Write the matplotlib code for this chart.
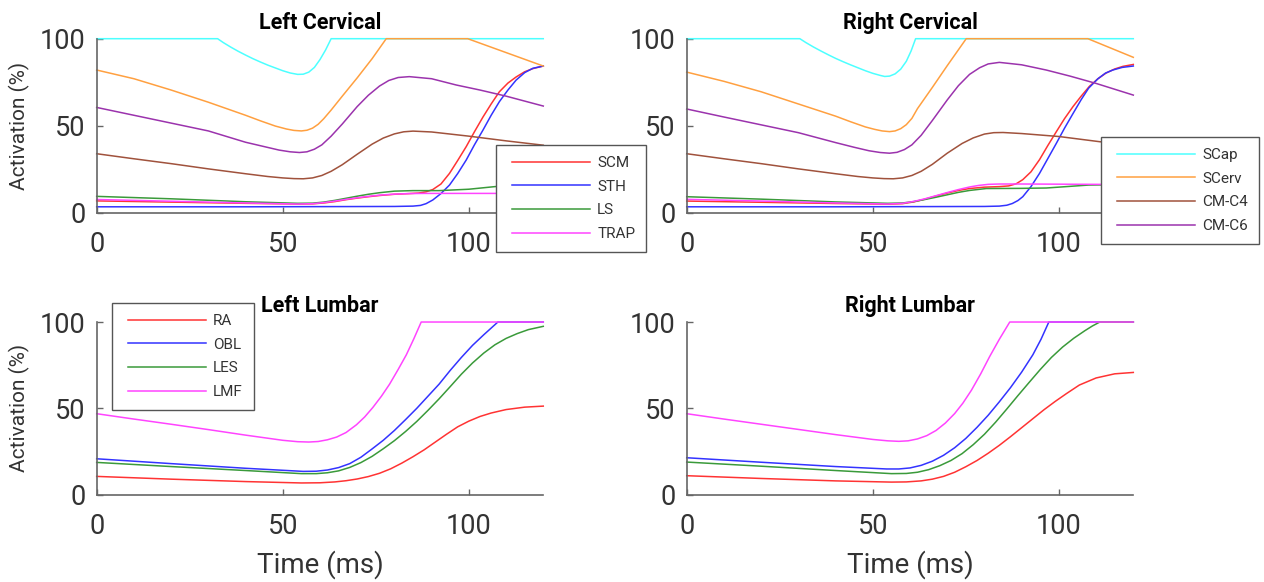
import matplotlib
matplotlib.use("Agg")
import matplotlib.pyplot as plt
from matplotlib.lines import Line2D
from matplotlib.legend_handler import HandlerLine2D

# ---- Left Cervical ----
lc_scap_t = [0, 32.5, 34, 36, 38, 40, 42, 44, 46, 48, 50, 52, 54, 55.5, 57, 58.5, 60, 61.5, 63, 120]
lc_scap_v = [100, 100, 97.8, 95.2, 92.8, 90.6, 88.5, 86.6, 84.8, 83.2, 81.6, 80.3, 79.5, 79.6, 80.8, 83.5, 88, 93.5, 100, 100]
lc_scerv_t = [0, 10, 20, 30, 40, 44, 48, 51, 53, 55, 56.5, 58, 59.5, 61, 63, 66, 70, 74, 77.8, 99.7, 120]
lc_scerv_v = [82, 77, 70.5, 63.5, 56, 52.8, 49.8, 48.1, 47.3, 47, 47.4, 48.6, 50.8, 54, 59, 67, 77.5, 88.5, 100, 100, 84.3]
lc_c4_t = [0, 10, 20, 30, 40, 46, 50, 53, 55.5, 58, 60.5, 63, 66, 70, 74, 77, 80, 82.5, 85, 90, 100, 110, 120]
lc_c4_v = [33.9, 31, 28.2, 25.2, 22.4, 20.8, 20, 19.6, 19.5, 20, 21.4, 23.8, 27.6, 33.6, 39.4, 42.9, 45.3, 46.5, 46.9, 46.4, 44, 41.3, 38.8]
lc_c6_t = [0, 10, 20, 30, 40, 45, 49, 52, 54.5, 56.5, 58.5, 60.5, 63, 66, 70, 73, 76, 78.5, 81, 84, 90, 96.6, 103, 110, 120]
lc_c6_v = [60.5, 56, 51.5, 47, 40.5, 38, 36, 35, 34.6, 35, 36.5, 39, 44, 51, 61, 67.5, 72.8, 76, 77.7, 78.2, 77, 73.4, 70.5, 67, 61.3]
lc_scm_t = [0, 20, 40, 54, 58, 61, 64, 67, 70, 73, 76, 80, 84, 86.5, 88.5, 90.3, 92.5, 94.8, 97, 99.3, 101.5, 103.8, 106, 108.2, 110.5, 112.7, 115, 117.2, 120]
lc_scm_v = [6.8, 6.1, 5.4, 5.0, 5.1, 5.6, 6.4, 7.5, 8.4, 9.2, 9.9, 10.6, 11, 11.3, 12, 13.3, 16.5, 22.6, 30, 38, 46.5, 55, 62.5, 69.5, 74.5, 78, 81, 82.8, 84.3]
lc_sth_t = [0, 40, 80, 85, 87, 88.5, 90.3, 92.5, 94.8, 97, 99.3, 101.5, 103.8, 106, 108.2, 110.5, 112.7, 115, 117.2, 120]
lc_sth_v = [3.4, 3.4, 3.6, 3.8, 4.2, 5.2, 7.3, 11, 15.9, 22.5, 30.3, 39, 47.5, 56, 63.8, 70.5, 76.2, 80.5, 83, 84.3]
lc_ls_t = [0, 20, 40, 54, 58, 61, 64, 67, 70, 73, 76, 80, 85, 92, 100, 107, 120]
lc_ls_v = [9.4, 8, 6.3, 5.4, 5.5, 6.1, 7.1, 8.3, 9.5, 10.6, 11.5, 12.4, 12.7, 12.7, 13.5, 15, 16.5]
lc_trap_t = [0, 20, 40, 54, 58, 61, 64, 67, 70, 73, 76, 80, 84, 88, 120]
lc_trap_v = [7.6, 6.6, 5.6, 5.0, 5.2, 5.8, 6.7, 7.7, 8.6, 9.4, 10.1, 10.7, 11, 11.1, 11.1]

# ---- Right Cervical ----
rc_scap_t = [0, 30.4, 32, 34, 36, 38, 40, 42, 44, 46, 48, 50, 52, 53.2, 54.5, 56, 57.5, 59, 60.3, 61.5, 120]
rc_scap_v = [100, 100, 97.8, 95.3, 93, 90.8, 88.7, 86.8, 85, 83.3, 81.6, 80.1, 78.9, 78.3, 78.5, 79.8, 82.5, 87, 93, 100, 100]
rc_scerv_t = [0, 10, 20, 30, 40, 44, 48, 50.5, 52.5, 54.5, 56, 57.5, 59, 60.5, 62, 66, 70, 75.1, 107.8, 120]
rc_scerv_v = [80.8, 75.5, 69.5, 62.5, 55.5, 52.3, 49.3, 47.9, 47, 46.6, 47, 48.3, 50.6, 54.2, 59.8, 72, 84.5, 100, 100, 89.3]
rc_c4_t = [0, 10, 20, 30, 40, 46, 50, 53, 55.5, 58, 60.5, 63, 66, 70, 74, 77, 80, 82.5, 85, 90, 100, 111, 120]
rc_c4_v = [33.9, 31, 28.2, 25.2, 22.4, 20.8, 20, 19.6, 19.5, 20, 21.4, 23.8, 27.8, 34.2, 39.8, 43, 45.2, 46, 46.1, 45.5, 43.8, 40.8, 39]
rc_c6_t = [0, 10, 20, 30, 40, 45, 49, 52, 54.5, 56.5, 58.5, 60.5, 63, 66, 70, 73, 76, 78.7, 81, 84, 90, 96.6, 103, 110, 120]
rc_c6_v = [59.6, 55, 50.5, 46, 40.3, 37.6, 35.6, 34.6, 34.2, 34.7, 36.3, 39, 44.5, 53, 64.8, 73, 79.5, 83.3, 85.5, 86.4, 85, 82, 78.5, 74.3, 67.6]
rc_scm_t = [0, 20, 40, 54, 58, 61, 64, 67, 70, 73, 76, 80, 84, 86.5, 88.5, 90.3, 92.5, 94.8, 97, 99.3, 101.5, 103.8, 106, 108.2, 110.5, 112.7, 115, 117.2, 120]
rc_scm_v = [6.7, 6.0, 5.3, 4.9, 5.2, 6.2, 7.8, 9.6, 11.3, 12.8, 13.9, 14.7, 15, 15.4, 16.6, 19, 23.5, 30.5, 38.5, 46.5, 54, 61, 67, 72.6, 77, 80.3, 82.6, 84.1, 85.2]
rc_sth_t = [0, 40, 80, 84, 86, 87.5, 89, 90.3, 92.5, 94.8, 97, 99.3, 101.5, 103.8, 106, 108, 110.5, 112.5, 114.5, 117, 120]
rc_sth_v = [3.4, 3.4, 3.6, 3.8, 4.3, 5.3, 7, 9.2, 15, 22.6, 31, 39.8, 48.5, 57, 65, 71.6, 77, 80.2, 82, 83.5, 84.3]
rc_ls_t = [0, 20, 40, 54, 58, 61, 64, 67, 70, 73, 76, 80.5, 90, 96.6, 108, 120]
rc_ls_v = [9.2, 7.8, 6.2, 5.4, 5.6, 6.4, 7.6, 8.9, 10.3, 11.7, 12.8, 13.9, 14, 14.2, 15.9, 16.2]
rc_trap_t = [0, 20, 40, 54, 58, 61, 64, 67, 70, 73, 76, 78.5, 81, 84, 90, 100, 120]
rc_trap_v = [7.7, 6.7, 5.6, 5.0, 5.4, 6.5, 8, 9.8, 11.6, 13.3, 14.8, 15.7, 16.3, 16.5, 16.5, 16.4, 16.2]

# ---- Left Lumbar ----
ll_ra_t = [0, 20, 40, 55, 60, 64, 67, 70, 73, 76, 79, 82, 85, 88, 91, 94, 97, 100, 103, 106, 110, 115, 120]
ll_ra_v = [10.6, 9, 7.6, 6.8, 6.9, 7.4, 8.1, 9.1, 10.5, 12.4, 15, 18.3, 22, 26, 30.5, 35, 39.3, 42.6, 45.3, 47.3, 49.3, 50.7, 51.3]
ll_obl_t = [0, 20, 40, 55.5, 59, 62, 65, 68, 71, 74, 77, 80, 83, 86, 89, 92, 95, 98, 101, 104, 107.8, 120]
ll_obl_v = [20.8, 18, 15.3, 13.5, 13.6, 14.3, 15.7, 18, 21.7, 26.5, 31.5, 37.2, 43.5, 50, 57, 64, 72, 79.5, 86.5, 92.6, 100, 100]
ll_les_t = [0, 20, 40, 55, 59, 62, 65, 68, 71, 74, 77, 80, 83, 86, 89, 92, 95, 98, 101, 104, 107, 110, 113, 116, 120]
ll_les_v = [18.7, 16.3, 14, 12.2, 12.2, 12.7, 13.8, 15.8, 18.6, 22.2, 26.6, 31.3, 36.6, 42.4, 48.8, 55.5, 62.6, 69.8, 76.3, 82, 86.8, 90.5, 93.3, 95.6, 97.5]
ll_lmf_t = [0, 10, 20, 30, 40, 50, 54, 57, 59.5, 62, 64.5, 67, 69.8, 72, 74.2, 76.5, 78.7, 81, 83.2, 85.2, 87.2, 120]
ll_lmf_v = [46.9, 43.8, 40.8, 37.7, 34.5, 31.5, 30.7, 30.5, 30.8, 31.8, 33.4, 36, 40.5, 45, 50.5, 57, 64, 72.5, 81, 90.2, 100, 100]

# ---- Right Lumbar ----
rl_ra_t = [0, 20, 40, 55, 59, 63, 66, 69, 72, 75, 78, 81, 84, 87, 90, 93, 96, 99, 102, 105.5, 110, 115, 120]
rl_ra_v = [11, 9.4, 8, 7.3, 7.4, 8, 9, 10.6, 13, 16.2, 19.8, 24, 28.6, 33.6, 38.8, 44, 49.2, 54, 58.5, 63.5, 67.6, 70, 70.8]
rl_obl_t = [0, 20, 40, 53.7, 57, 60, 63, 66, 69, 72, 75, 78, 81, 84, 87, 90, 93, 95.2, 97.3, 120]
rl_obl_v = [21.4, 18.8, 16.3, 14.9, 14.9, 15.5, 17, 19.4, 22.8, 27.2, 32.6, 39, 46, 53.8, 62, 71, 81, 90, 100, 100]
rl_les_t = [0, 20, 40, 55, 59, 62, 65, 68, 71, 74, 77, 80, 83, 86, 89, 92, 95, 98, 101, 104, 107, 109, 111, 120]
rl_les_v = [18.9, 16.5, 14, 12.2, 12.3, 13, 14.5, 16.8, 19.8, 23.8, 29, 35, 42, 49.6, 57.4, 65, 72.5, 79.5, 85.5, 90.6, 95, 97.7, 100, 100]
rl_lmf_t = [0, 10, 20, 30, 40, 50, 54, 57, 59.5, 62, 64.5, 67, 69.5, 72, 74.2, 76.5, 79, 81.4, 84, 86.8, 120]
rl_lmf_v = [46.9, 43.8, 40.8, 37.8, 34.8, 32, 31.2, 30.9, 31.2, 32.3, 34.2, 37.2, 41.5, 47, 53, 60.5, 70, 80, 90, 100, 100]

RED = '#ff3333'
BLUE = '#3333ff'
GREEN = '#3a9a3a'
MAGENTA = '#ff44ff'
CYAN = '#4dffff'
ORANGE = '#ffa040'
BROWN = '#a0523c'
PURPLE = '#9b33ad'

GRAY = '#666666'
TXT = '#333333'


def style_axes(ax, title, left, bottom):
    ax.set_xlim(0, 120)
    ax.set_ylim(0, 100)
    ax.set_xticks([0, 50, 100])
    ax.set_yticks([0, 50, 100])
    for s in ['top', 'right']:
        ax.spines[s].set_visible(False)
    for s in ['left', 'bottom']:
        ax.spines[s].set_color(GRAY)
        ax.spines[s].set_linewidth(1.2)
    ax.tick_params(axis='both', direction='in', length=4, width=1, color=GRAY,
                   labelsize=19.5, labelcolor=TXT)
    ax.tick_params(axis='x', pad=13)
    ax.tick_params(axis='y', pad=8)
    ax.set_title(title, fontsize=15.5, fontweight='bold', pad=7, color='black')
    if left:
        ax.set_ylabel('Activation (%)', fontsize=15, color=TXT)
        ax.yaxis.set_label_coords(-0.149, 0.5)
    if bottom:
        ax.set_xlabel('Time (ms)', fontsize=20, color=TXT)
        ax.xaxis.set_label_coords(0.5, -0.32)


def draw(ax, series):
    lines = []
    for t, v, c, lab in series:
        ln, = ax.plot(t, v, color=c, lw=1.1, label=lab, clip_on=False)
        lines.append(ln)
    return lines


def add_legend(ax, fig, handles, x, y):
    leg = ax.legend(handles=handles, loc='upper left', bbox_to_anchor=(x, y),
                    bbox_transform=fig.transFigure, borderaxespad=0,
                    fontsize=11, handlelength=5.4, handletextpad=0.5,
                    borderpad=0.72, labelspacing=0.63, fancybox=False,
                    framealpha=1, edgecolor='#555555', labelcolor=TXT,
                    handler_map={Line2D: HandlerLine2D(xpad=0.3)})
    leg.get_frame().set_linewidth(1.0)
    leg.set_zorder(10)
    return leg


if __name__ == '__main__':
    plt.rcParams['font.family'] = ['Roboto', 'DejaVu Sans']

    fig = plt.figure(figsize=(12.64, 5.82), dpi=100)
    w, h = 0.3533, 0.299
    ax_lc = fig.add_axes([0.0765, 0.6345, w, h])
    ax_rc = fig.add_axes([0.5433, 0.6345, w, h])
    ax_ll = fig.add_axes([0.0765, 0.150, w, 0.2967])
    ax_rl = fig.add_axes([0.5433, 0.150, w, 0.2967])

    lc = draw(ax_lc, [
        (lc_scm_t, lc_scm_v, RED, 'SCM'),
        (lc_sth_t, lc_sth_v, BLUE, 'STH'),
        (lc_ls_t, lc_ls_v, GREEN, 'LS'),
        (lc_trap_t, lc_trap_v, MAGENTA, 'TRAP'),
        (lc_scap_t, lc_scap_v, CYAN, 'SCap'),
        (lc_scerv_t, lc_scerv_v, ORANGE, 'SCerv'),
        (lc_c4_t, lc_c4_v, BROWN, 'CM-C4'),
        (lc_c6_t, lc_c6_v, PURPLE, 'CM-C6'),
    ])
    rc = draw(ax_rc, [
        (rc_scm_t, rc_scm_v, RED, 'SCM'),
        (rc_sth_t, rc_sth_v, BLUE, 'STH'),
        (rc_ls_t, rc_ls_v, GREEN, 'LS'),
        (rc_trap_t, rc_trap_v, MAGENTA, 'TRAP'),
        (rc_scap_t, rc_scap_v, CYAN, 'SCap'),
        (rc_scerv_t, rc_scerv_v, ORANGE, 'SCerv'),
        (rc_c4_t, rc_c4_v, BROWN, 'CM-C4'),
        (rc_c6_t, rc_c6_v, PURPLE, 'CM-C6'),
    ])
    ll = draw(ax_ll, [
        (ll_ra_t, ll_ra_v, RED, 'RA'),
        (ll_obl_t, ll_obl_v, BLUE, 'OBL'),
        (ll_les_t, ll_les_v, GREEN, 'LES'),
        (ll_lmf_t, ll_lmf_v, MAGENTA, 'LMF'),
    ])
    draw(ax_rl, [
        (rl_ra_t, rl_ra_v, RED, 'RA'),
        (rl_obl_t, rl_obl_v, BLUE, 'OBL'),
        (rl_les_t, rl_les_v, GREEN, 'LES'),
        (rl_lmf_t, rl_lmf_v, MAGENTA, 'LMF'),
    ])

    style_axes(ax_lc, 'Left Cervical', True, False)
    style_axes(ax_rc, 'Right Cervical', False, False)
    style_axes(ax_ll, 'Left Lumbar', True, True)
    style_axes(ax_rl, 'Right Lumbar', False, True)

    add_legend(ax_lc, fig, lc[:4], 496 / 1264, 1 - 145 / 582)
    add_legend(ax_rc, fig, rc[4:], 1101 / 1264, 1 - 137 / 582)
    add_legend(ax_ll, fig, ll, 112 / 1264, 1 - 303 / 582)

    plt.savefig('out.png', dpi=100)
